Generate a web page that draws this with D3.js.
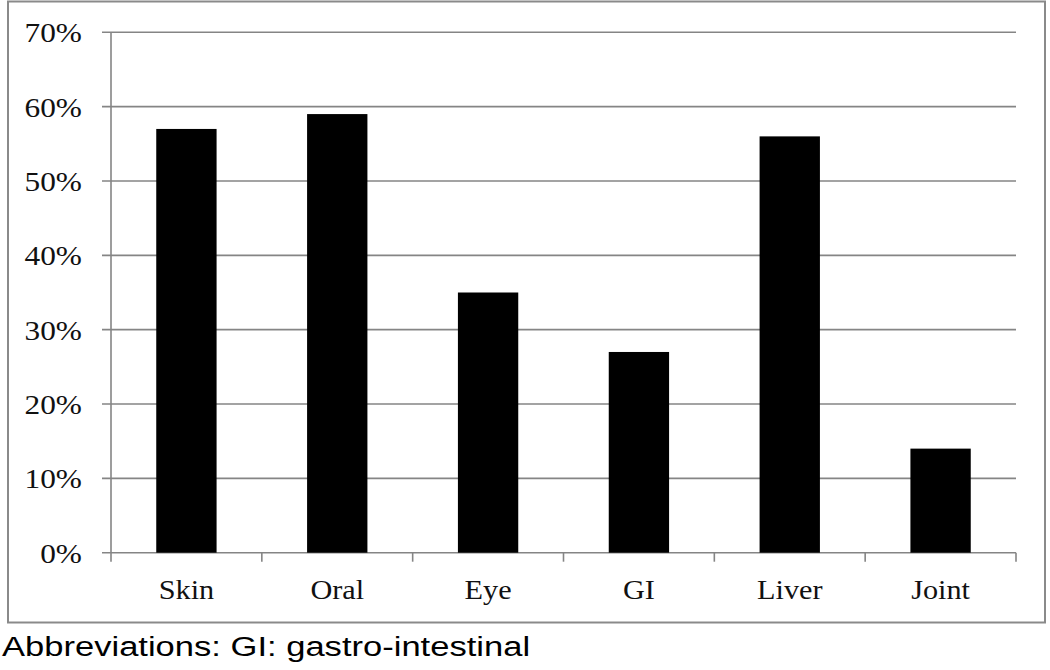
<!DOCTYPE html>
<html><head><meta charset="utf-8">
<script src="https://cdn.jsdelivr.net/npm/d3@7/dist/d3.min.js"></script>
<style>body{margin:0;background:#fff;} svg{display:block;}</style>
</head><body>
<svg id="c" width="1050" height="670"></svg>
<script>
const categories = ["Skin", "Oral", "Eye", "GI", "Liver", "Joint"];
const values = [0.57, 0.59, 0.35, 0.27, 0.56, 0.14];
const yTicks = [0, 0.1, 0.2, 0.3, 0.4, 0.5, 0.6, 0.7];
const footnote = "Abbreviations: GI: gastro-intestinal";

const svg = d3.select("#c");
const m = {left: 111, right: 1016, top: 32.3, bottom: 552.7};

// outer frame
svg.append("rect").attr("x", 8).attr("y", 1.5).attr("width", 1037).attr("height", 621)
  .attr("fill", "none").attr("stroke", "#8a8a8a").attr("stroke-width", 2);

const x = d3.scaleBand().domain(categories).range([m.left, m.right]).paddingInner(0.6).paddingOuter(0.3);
const y = d3.scaleLinear().domain([0, 0.7]).range([m.bottom, m.top]);

// gridlines
svg.append("g").selectAll("line").data(yTicks).join("line")
  .attr("x1", m.left - 9).attr("x2", m.right)
  .attr("y1", d => y(d)).attr("y2", d => y(d))
  .attr("stroke", "#858585").attr("stroke-width", 1.6);

// y axis line
svg.append("line").attr("x1", m.left).attr("x2", m.left).attr("y1", m.top).attr("y2", m.bottom + 9)
  .attr("stroke", "#858585").attr("stroke-width", 1.6);

// x category ticks
const step = (m.right - m.left) / categories.length;
const bounds = d3.range(categories.length + 1).map(i => m.left + i * step);
svg.append("g").selectAll("line").data(bounds.slice(1)).join("line")
  .attr("x1", d => d).attr("x2", d => d).attr("y1", m.bottom).attr("y2", m.bottom + 9)
  .attr("stroke", "#858585").attr("stroke-width", 1.6);

// y labels
const fmt = d3.format(".0%");
svg.append("g").selectAll("text").data(yTicks).join("text")
  .attr("transform", d => `translate(82,${y(d) + 10}) scale(1.12,1)`)
  .attr("text-anchor", "end")
  .attr("font-family", "Liberation Serif, serif").attr("font-size", 28)
  .attr("fill", "#111").text(d => fmt(d));

// bars
svg.append("g").selectAll("rect").data(values).join("rect")
  .attr("x", (d, i) => x(categories[i]))
  .attr("width", x.bandwidth())
  .attr("y", d => y(d))
  .attr("height", d => y(0) - y(d))
  .attr("fill", "#000");

// x labels
svg.append("g").selectAll("text").data(categories).join("text")
  .attr("transform", d => `translate(${x(d) + x.bandwidth() / 2},599) scale(1.08,1)`)
  .attr("text-anchor", "middle")
  .attr("font-family", "Liberation Serif, serif").attr("font-size", 28)
  .attr("fill", "#111").text(d => d);

// footnote
svg.append("text").attr("transform", "translate(2,656) scale(1.28,1)")
  .attr("font-family", "Liberation Sans, Arial, sans-serif").attr("font-size", 27)
  .attr("fill", "#000").text(footnote);
</script>
</body></html>
